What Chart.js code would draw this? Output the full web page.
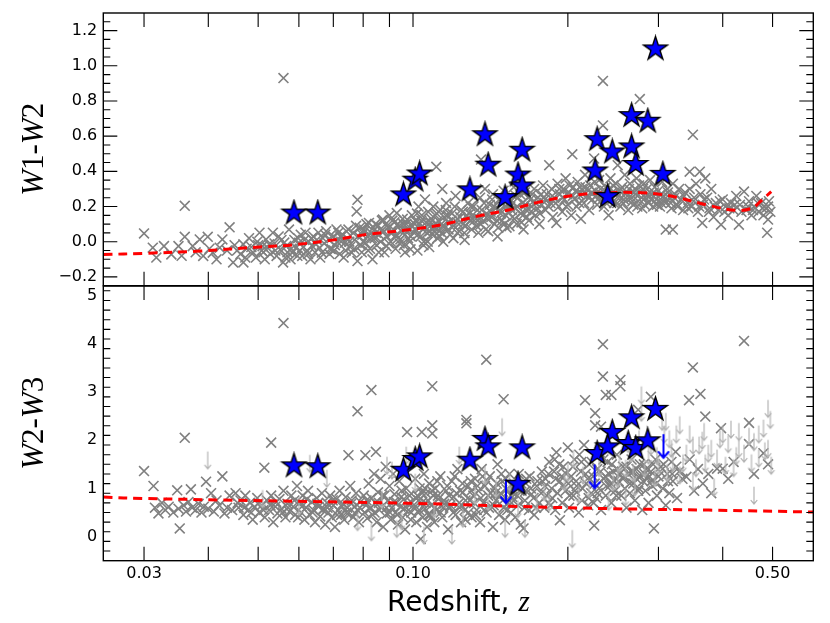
<!DOCTYPE html>
<html>
<head>
<meta charset="utf-8">
<title>WISE colours against redshift</title>
<script src="https://cdn.jsdelivr.net/npm/chart.js@4.4.1/dist/chart.umd.min.js"></script>
<style>
  html, body { margin: 0; padding: 0; background: #fff; }
  #wrap { position: relative; width: 830px; height: 623px; }
  #wrap canvas { position: absolute; left: 0; top: 0; }
</style>
</head>
<body>
<div id="wrap">
  <canvas id="topPanel" width="830" height="623"></canvas>
  <canvas id="bottomPanel" width="830" height="623"></canvas>
</div>
<script>
/* ============================================================
   AXES
============================================================ */
const zRange = [0.025, 0.6];
const zTicks = [0.03, 0.04, 0.05, 0.06, 0.07, 0.08, 0.09, 0.1, 0.2, 0.3, 0.4, 0.5];
const zLabelTicks = [0.03, 0.1, 0.5];
const zLabels = ['0.03', '0.10', '0.50'];

const w12Range = [-0.25, 1.3];
const w12Ticks = [-0.2, 0, 0.2, 0.4, 0.6, 0.8, 1.0, 1.2];
const w12Labels = ['\u22120.2', '0.0', '0.2', '0.4', '0.6', '0.8', '1.0', '1.2'];
const w12Minor = 0.05;

const w23Range = [-0.5, 5.2];
const w23Ticks = [0, 1, 2, 3, 4, 5];
const w23Labels = ['0', '1', '2', '3', '4', '5'];
const w23Minor = 0.2;

/* ============================================================
   TOP PANEL: W1-W2  [redshift, colour]
============================================================ */
const topSample = [
  [0.030,0.047],[0.036,0.204],[0.044,0.082],
  [0.0312,-0.034],[0.0317,-0.090],[0.0328,-0.025],[0.0339,-0.072],[0.0350,-0.025],[0.0355,-0.08],[0.0360,0.028],[0.0373,-0.025],[0.0378,-0.06],[0.0385,0.013],[0.0391,-0.081],[0.0399,0.028],[0.0402,-0.04],[0.0408,-0.062],[0.0415,-0.1],[0.0421,-0.034],[0.0426,0.013],[0.0435,-0.05],[0.0447,-0.118],[0.0450,-0.02],
  [0.0462,-0.07],[0.0468,-0.118],[0.0468,-0.015],[0.0475,-0.04],[0.0480,0.02],[0.0489,-0.062],[0.0495,-0.09],[0.0500,-0.02],[0.0503,0.051],[0.0508,-0.05],[0.051,-0.025],[0.0515,-0.1],[0.0518,0.013],[0.0522,-0.035],[0.0528,-0.07],[0.0534,0.051],[0.0538,-0.01],[0.0543,-0.081],[0.0548,0.03],[0.0552,-0.045],[0.0559,-0.118],[0.0562,-0.005],[0.056,0.93],[0.0567,-0.025],[0.057,-0.06],[0.0574,0.069],[0.0578,-0.1],[0.0583,-0.062],[0.0588,0.01],[0.0592,-0.035],[0.0596,-0.08],
  [0.0455,-0.05],[0.0472,-0.09],[0.0485,-0.03],[0.0498,0.0],[0.0512,-0.06],[0.0525,-0.015],[0.054,-0.05],[0.0555,0.01],[0.0565,-0.09],[0.058,-0.04],[0.0598,0.02],
  [0.060,-0.006],[0.0605,0.04],[0.0609,-0.081],[0.0612,-0.03],[0.0618,0.051],[0.0622,-0.05],[0.0627,0.0],[0.0632,-0.1],[0.0637,-0.025],[0.064,0.03],[0.0645,-0.06],[0.0650,0.01],[0.0655,0.051],[0.0658,-0.035],[0.0665,-0.062],[0.0668,0.02],[0.0672,-0.01],[0.0678,0.06],[0.0685,0.013],[0.069,-0.04],[0.0695,-0.043],[0.070,0.03],[0.0705,-0.02],[0.071,0.07],[0.0716,0.051],[0.072,-0.07],[0.0725,0.0],[0.073,0.04],[0.0737,-0.006],[0.074,-0.05],[0.0745,0.02],[0.0749,0.069],[0.0755,-0.03],[0.0760,-0.062],[0.0765,0.05],[0.077,0.01],[0.0777,0.172],[0.078,0.238],[0.0780,-0.11],[0.0783,0.032],[0.0788,0.08],[0.0792,-0.02],[0.0797,0.04],
  [0.0603,-0.05],[0.0615,0.01],[0.0625,-0.07],[0.0635,0.02],[0.0648,-0.015],[0.066,-0.09],[0.0675,0.04],[0.0688,-0.07],[0.0702,-0.05],[0.0712,0.0],[0.0722,0.03],[0.0733,-0.09],[0.0742,0.06],[0.0752,0.0],[0.0768,-0.04],[0.0775,0.09],[0.0795,-0.06],
  [0.0800,0.0],[0.0805,0.06],[0.0808,-0.006],[0.0812,0.1],[0.0815,0.03],[0.0821,0.107],[0.0825,-0.04],[0.083,0.05],[0.0834,-0.1],[0.0838,0.08],[0.0842,0.02],[0.0847,0.051],[0.085,-0.02],[0.0855,0.09],[0.086,0.04],[0.0865,0.0],[0.087,0.12],[0.0874,0.126],[0.0878,0.06],[0.088,-0.06],[0.0888,-0.025],[0.089,0.03],[0.0895,0.08],[0.090,0.15],[0.0905,0.0],[0.091,0.05],[0.0916,0.069],[0.092,0.11],[0.0925,-0.04],[0.093,0.163],[0.0935,0.02],[0.094,0.09],[0.0945,0.013],[0.095,0.06],[0.0955,0.13],[0.096,-0.02],[0.0965,0.04],[0.097,0.1],[0.0974,0.126],[0.098,0.07],[0.0985,0.0],[0.0989,-0.043],[0.0995,0.15],
  [0.0803,0.07],[0.0818,-0.05],[0.0832,0.02],[0.0845,0.1],[0.0858,-0.06],[0.0868,0.06],[0.0885,0.1],[0.0898,-0.01],[0.0912,0.12],[0.0928,0.04],[0.0942,-0.01],[0.0958,0.1],[0.0968,0.07],[0.0978,0.02],[0.0992,0.09],
  [0.0905,0.05],[0.0935,0.1],[0.0965,-0.06],[0.099,0.03],
  [0.1005,0.05],[0.101,0.12],[0.1013,0.069],[0.102,-0.05],[0.1025,0.2],[0.103,0.1],[0.1035,0.03],[0.104,0.15],[0.1045,0.07],[0.105,0.0],[0.1055,0.24],[0.106,0.11],[0.1065,0.05],[0.107,0.17],[0.1075,-0.03],[0.108,0.09],[0.1085,0.13],[0.109,0.04],[0.1095,0.2],[0.110,0.08],[0.1105,0.15],[0.111,0.426],[0.1115,0.02],[0.112,0.12],[0.1125,0.06],[0.113,0.18],[0.1135,0.1],[0.114,0.3],[0.1145,0.0],[0.115,0.14],[0.1155,0.08],[0.116,0.22],[0.117,0.11],[0.118,0.04],[0.119,0.16],[0.120,0.09],[0.121,0.26],[0.122,0.13],[0.123,0.06],[0.124,0.18],[0.125,0.1],[0.126,0.01],[0.127,0.15],[0.128,0.22],[0.129,0.12],[0.130,0.07],
  [0.1008,0.1],[0.1022,0.04],[0.1038,0.12],[0.1052,0.08],[0.1068,0.0],[0.1082,0.11],[0.1098,0.06],[0.1112,0.16],[0.1128,0.03],[0.1142,0.09],[0.1158,0.18],[0.1172,0.07],[0.1188,0.12],[0.1205,0.2],[0.122,0.05],[0.1235,0.14],[0.125,0.17],[0.1265,0.09],[0.128,0.13],[0.1295,0.2],
  [0.1018,0.16],[0.1048,-0.02],[0.1078,0.06],[0.1108,0.1],[0.1138,0.05],[0.1168,0.15],[0.1198,0.02],[0.1228,0.1],[0.1258,0.05],[0.1288,0.16],
  [0.131,0.2],[0.132,0.14],[0.133,0.09],[0.134,0.051],[0.135,0.25],[0.1356,0.467],[0.136,0.18],[0.137,0.12],[0.138,0.3],[0.139,0.16],[0.140,0.06],[0.141,0.21],[0.142,0.14],[0.143,0.27],[0.144,0.1],[0.145,0.19],[0.146,0.03],[0.147,0.24],[0.148,0.16],[0.149,0.12],[0.150,0.29],[0.151,0.2],[0.152,0.08],[0.153,0.17],[0.154,0.088],[0.155,0.23],[0.156,0.14],[0.157,0.31],[0.158,0.19],[0.159,0.1],[0.160,0.25],[0.162,0.16],[0.163,0.22],[0.164,0.07],[0.165,0.28],[0.166,0.18],[0.168,0.12],[0.169,0.24],[0.170,0.2],[0.172,0.3],[0.173,0.15],[0.175,0.25],[0.176,0.1],[0.178,0.21],[0.179,0.32],
  [0.1315,0.12],[0.1335,0.18],[0.1355,0.1],[0.1375,0.22],[0.1395,0.13],[0.1415,0.17],[0.1435,0.2],[0.1455,0.12],[0.1475,0.18],[0.1495,0.22],[0.1515,0.15],[0.1535,0.25],[0.1555,0.18],[0.1575,0.13],[0.1595,0.2],[0.1615,0.27],[0.1635,0.15],[0.1655,0.21],[0.1675,0.25],[0.1695,0.17],[0.1715,0.23],[0.1745,0.19],[0.1775,0.27],
  [0.1345,0.13],[0.1385,0.07],[0.1425,0.24],[0.1465,0.08],[0.1505,0.1],[0.1545,0.2],[0.1585,0.26],[0.1625,0.11],[0.1665,0.14],[0.1705,0.27],[0.1735,0.22],[0.1765,0.16],[0.1795,0.25],
  [0.181,0.18],[0.182,0.27],[0.184,0.435],[0.185,0.22],[0.186,0.3],[0.187,0.14],[0.188,0.25],[0.19,0.107],[0.191,0.33],[0.192,0.2],[0.193,0.27],[0.195,0.17],[0.196,0.3],[0.197,0.24],[0.198,0.36],[0.2,0.21],[0.201,0.28],[0.203,0.15],[0.204,0.497],[0.205,0.31],[0.206,0.24],[0.208,0.2],[0.209,0.34],[0.21,0.27],[0.212,0.13],[0.213,0.3],[0.215,0.22],[0.216,0.38],[0.218,0.26],[0.22,0.18],[0.221,0.32],[0.223,0.24],[0.225,0.473],[0.226,0.29],[0.228,0.21],[0.23,0.35],[0.232,0.27],[0.234,0.661],[0.234,0.914],[0.235,0.2],[0.237,0.31],[0.239,0.25],[0.24,0.15],[0.242,0.36],[0.244,0.28],[0.246,0.22],[0.248,0.33],[0.25,0.435],
  [0.1805,0.24],[0.1835,0.2],[0.1865,0.26],[0.1895,0.22],[0.1925,0.3],[0.1955,0.25],[0.1985,0.2],[0.2015,0.32],[0.2045,0.26],[0.2075,0.29],[0.2105,0.22],[0.2135,0.27],[0.2165,0.31],[0.2195,0.25],[0.2225,0.28],[0.2255,0.34],[0.2285,0.24],[0.2315,0.3],[0.2345,0.26],[0.2375,0.22],[0.2405,0.3],[0.2435,0.24],[0.2465,0.28],[0.2495,0.22],
  [0.199,0.27],[0.211,0.31],[0.219,0.29],[0.227,0.26],[0.236,0.29],[0.245,0.32],
  [0.251,0.26],[0.253,0.2],[0.255,0.31],[0.257,0.24],[0.258,0.38],[0.26,0.28],[0.262,0.18],[0.264,0.33],[0.266,0.25],[0.268,0.21],[0.27,0.3],[0.272,0.36],[0.274,0.23],[0.276,0.811],[0.277,0.28],[0.279,0.19],[0.281,0.33],[0.283,0.25],[0.285,0.3],[0.287,0.22],[0.289,0.35],[0.291,0.27],[0.293,0.2],[0.295,0.31],[0.297,0.24],[0.3,0.29],[0.302,0.2],[0.305,0.34],[0.307,0.26],[0.31,0.069],[0.31,0.22],[0.312,0.3],[0.315,0.25],[0.318,0.19],[0.32,0.069],[0.32,0.33],[0.323,0.27],[0.326,0.21],[0.329,0.3],
  [0.252,0.29],[0.256,0.22],[0.259,0.27],[0.263,0.3],[0.267,0.23],[0.271,0.27],[0.275,0.32],[0.278,0.25],[0.282,0.21],[0.286,0.27],[0.29,0.24],[0.294,0.28],[0.298,0.21],[0.303,0.27],[0.308,0.24],[0.313,0.28],[0.317,0.22],[0.322,0.25],[0.327,0.2],
  [0.261,0.24],[0.269,0.28],[0.273,0.2],[0.28,0.3],[0.288,0.26],[0.296,0.27],[0.304,0.22],
  [0.332,0.24],[0.335,0.18],[0.338,0.28],[0.342,0.22],[0.345,0.398],[0.345,0.3],[0.348,0.2],[0.35,0.608],[0.352,0.25],[0.355,0.33],[0.358,0.17],[0.361,0.398],[0.362,0.27],[0.365,0.107],[0.366,0.21],[0.37,0.36],[0.373,0.25],[0.377,0.19],[0.38,0.3],[0.384,0.14],[0.388,0.22],[0.392,0.18],[0.397,0.097],[0.4,0.24],[0.405,0.2],[0.41,0.15],[0.415,0.22],[0.42,0.18],[0.425,0.26],[0.43,0.097],[0.432,0.21],[0.44,0.285],[0.445,0.18],[0.45,0.23],[0.455,0.15],[0.46,0.2],[0.465,0.26],[0.47,0.17],[0.475,0.22],[0.48,0.15],[0.485,0.19],[0.488,0.051],[0.49,0.126],[0.492,0.23],[0.495,0.17],
  [0.336,0.26],[0.343,0.19],[0.351,0.23],[0.36,0.2],[0.368,0.24],[0.376,0.17],[0.386,0.2],[0.395,0.23],[0.403,0.17],[0.412,0.19],[0.422,0.21],[0.435,0.17],[0.448,0.2],[0.458,0.18],[0.468,0.22],[0.478,0.19],[0.49,0.2]
];

const topTargets = [
  [0.0587,0.163],[0.0653,0.163],[0.0958,0.266],[0.101,0.35],[0.103,0.385],
  [0.138,0.608],[0.140,0.435],[0.129,0.295],[0.163,0.520],[0.160,0.379],[0.163,0.317],[0.151,0.251],
  [0.296,1.096],[0.228,0.580],[0.244,0.510],[0.226,0.402],[0.239,0.257],[0.266,0.717],[0.286,0.685],[0.266,0.539],[0.271,0.439],[0.306,0.383]
];

const topModel = [
  [0.025,-0.073],[0.030,-0.066],[0.0385,-0.053],[0.0503,-0.030],[0.0583,-0.018],[0.0697,0.009],[0.0812,0.041],[0.1015,0.073],[0.114,0.097],[0.133,0.144],[0.154,0.182],[0.178,0.229],[0.208,0.266],[0.241,0.279],[0.279,0.279],[0.301,0.270],[0.325,0.253],[0.376,0.206],[0.425,0.178],[0.456,0.191],[0.477,0.238],[0.497,0.285]
];

/* ============================================================
   BOTTOM PANEL: W2-W3
============================================================ */
const bottomSample = [
  [0.030,1.36],[0.036,2.05],
  [0.0313,1.05],[0.0315,0.6],[0.032,0.48],[0.0325,0.7],[0.033,0.55],[0.0335,0.62],[0.0342,0.5],[0.0348,0.96],[0.035,0.58],[0.0352,0.17],[0.0358,0.65],[0.0362,0.52],[0.0366,0.72],[0.037,0.98],[0.0372,0.6],[0.0378,0.55],[0.0383,0.68],[0.0388,0.5],[0.0392,0.62],[0.0396,1.14],[0.04,0.58],[0.0405,0.9],[0.041,0.52],[0.0415,0.75],[0.042,0.65],[0.0426,1.25],[0.043,0.48],[0.0435,0.6],[0.044,0.85],[0.0445,0.55],
  [0.0452,0.9],[0.0458,0.6],[0.0462,0.75],[0.0468,0.45],[0.0472,0.85],[0.0478,0.55],[0.0482,0.7],[0.0488,0.35],[0.0492,0.62],[0.0498,0.8],[0.0502,0.5],[0.0508,0.65],[0.0514,1.43],[0.0515,0.4],[0.052,0.75],[0.0525,0.55],[0.053,1.95],[0.053,0.85],[0.0535,0.3],[0.054,0.62],[0.0545,0.48],[0.055,0.78],[0.0555,0.58],[0.056,4.43],[0.056,0.95],[0.0565,0.4],[0.057,0.68],[0.0575,0.52],[0.058,0.85],[0.0585,0.62],[0.059,0.45],[0.0595,1.05],
  [0.0456,0.7],[0.047,0.6],[0.0485,0.5],[0.05,0.68],[0.0512,0.55],[0.0528,0.65],[0.0542,0.72],[0.0558,0.5],[0.0572,0.6],[0.0588,0.75],[0.0598,0.4],
  [0.0602,0.7],[0.0606,0.5],[0.061,0.85],[0.0615,0.35],[0.062,0.6],[0.0625,0.95],[0.063,0.45],[0.0635,0.72],[0.064,0.55],[0.0645,0.3],[0.065,0.8],[0.0655,0.62],[0.066,0.42],[0.0665,0.9],[0.067,0.58],[0.0675,0.25],[0.068,0.7],[0.0685,0.5],[0.069,0.85],[0.0695,0.4],[0.07,0.65],[0.0705,0.2],[0.071,0.78],[0.0715,0.55],[0.072,0.95],[0.0725,0.45],[0.073,0.68],[0.0735,0.35],[0.074,0.82],[0.0745,0.6],[0.0749,1.69],[0.075,0.5],[0.0755,1.05],[0.076,0.75],[0.0765,0.4],[0.077,0.62],[0.0775,0.9],[0.078,2.6],[0.078,0.55],[0.0785,0.3],[0.079,0.72],
  [0.0608,0.62],[0.0622,0.78],[0.0638,0.5],[0.0652,0.68],[0.0668,0.55],[0.0682,0.6],[0.0698,0.75],[0.0712,0.45],[0.0728,0.62],[0.0742,0.5],[0.0758,0.68],[0.0772,0.48],[0.0788,0.6],
  [0.0802,0.85],[0.0805,0.5],[0.0808,1.69],[0.081,0.65],[0.0815,0.38],[0.082,1.1],[0.0825,0.58],[0.083,3.04],[0.083,0.8],[0.0835,0.45],[0.084,1.3],[0.0845,0.7],[0.0847,1.76],[0.085,0.3],[0.0855,0.92],[0.086,0.55],[0.0865,1.2],[0.087,0.62],[0.0875,0.2],[0.088,0.85],[0.0885,1.45],[0.089,0.48],[0.0895,0.75],[0.09,1.05],[0.0905,0.35],[0.091,0.6],[0.0915,1.3],[0.092,0.88],[0.0925,0.5],[0.093,0.7],[0.0935,0.25],[0.094,1.15],[0.0945,0.62],[0.095,0.95],[0.0955,0.4],[0.096,0.78],[0.0965,0.15],[0.097,1.0],[0.0974,2.17],[0.098,0.55],[0.0985,0.85],[0.099,0.35],[0.0995,0.7],
  [0.0812,0.75],[0.0828,0.6],[0.0842,0.5],[0.0858,0.7],[0.0872,0.85],[0.0888,0.6],[0.0902,0.5],[0.0918,0.72],[0.0932,0.45],[0.0948,0.82],[0.0962,0.58],[0.0978,0.68],[0.0992,0.5],
  [0.1005,0.6],[0.101,1.2],[0.1015,0.3],[0.102,0.85],[0.1025,0.5],[0.103,1.0],[0.1035,-0.05],[0.104,0.7],[0.104,2.17],[0.1045,0.4],[0.105,1.3],[0.1055,0.58],[0.106,0.9],[0.1065,0.2],[0.107,0.75],[0.1075,1.1],[0.108,0.45],[0.1085,0.65],[0.109,2.31],[0.109,2.14],[0.109,3.12],[0.1095,0.85],[0.11,0.3],[0.1105,1.0],[0.111,0.55],[0.112,0.78],[0.113,1.25],[0.114,0.4],[0.115,0.68],[0.116,0.95],[0.117,0.15],[0.118,0.6],[0.119,1.15],[0.12,0.82],[0.121,0.45],[0.122,1.4],[0.123,0.7],[0.124,0.3],[0.125,0.92],[0.126,0.55],[0.127,2.42],[0.127,2.35],[0.128,1.05],[0.129,0.75],[0.13,0.4],
  [0.1012,0.8],[0.1028,0.55],[0.1042,0.9],[0.1058,0.7],[0.1072,0.45],[0.1088,0.95],[0.1102,0.6],[0.1118,0.85],[0.1132,0.5],[0.1148,0.75],[0.1165,1.05],[0.1182,0.65],[0.1198,0.5],[0.1215,0.9],[0.1232,0.6],[0.1248,1.1],[0.1265,0.75],[0.1282,0.5],[0.1298,0.95],
  [0.1025,0.75],[0.1055,1.0],[0.1085,0.4],[0.1115,1.15],[0.1145,0.6],[0.1175,0.85],[0.1205,1.25],[0.1235,0.95],[0.1265,0.35],[0.1295,1.15],
  [0.131,0.85],[0.132,1.2],[0.133,0.55],[0.134,0.95],[0.135,0.3],[0.136,1.4],[0.137,0.7],[0.138,1.05],[0.1388,3.67],[0.139,0.5],[0.14,0.85],[0.141,1.25],[0.142,0.62],[0.143,0.2],[0.144,1.0],[0.145,0.75],[0.146,1.5],[0.147,0.45],[0.148,0.9],[0.149,1.15],[0.15,2.85],[0.15,0.6],[0.151,0.35],[0.152,0.98],[0.153,0.7],[0.154,1.3],[0.155,0.5],[0.156,0.82],[0.157,1.1],[0.158,0.4],[0.16,0.65],[0.161,0.95],[0.162,0.25],[0.164,0.17],[0.165,0.75],[0.166,1.2],[0.168,0.55],[0.17,0.88],[0.172,0.45],[0.174,1.05],[0.176,0.7],[0.178,1.35],[0.18,0.6],
  [0.1315,0.7],[0.1335,1.05],[0.1355,0.8],[0.1375,0.55],[0.1395,1.15],[0.1415,0.9],[0.1435,0.65],[0.1455,1.1],[0.1475,0.85],[0.1495,0.75],[0.1515,1.2],[0.1535,0.95],[0.1555,0.7],[0.1575,1.05],[0.1595,0.85],[0.1625,1.1],[0.1655,0.95],[0.1685,1.25],[0.1715,0.8],[0.1745,1.15],[0.1775,0.9],
  [0.1325,0.45],[0.1365,1.25],[0.1405,0.6],[0.1445,0.9],[0.1485,1.3],[0.1525,0.55],[0.1565,0.9],[0.1605,1.3],[0.1645,0.6],[0.1695,1.0],[0.1735,0.6],[0.1785,1.15],
  [0.181,1.2],[0.182,0.85],[0.184,1.55],[0.185,0.65],[0.186,1.0],[0.188,1.35],[0.189,0.55],[0.19,1.75],[0.191,0.9],[0.193,0.34],[0.193,1.15],[0.195,0.7],[0.196,1.45],[0.198,0.95],[0.2,1.85],[0.201,0.6],[0.203,1.25],[0.205,0.85],[0.206,1.6],[0.208,1.05],[0.21,0.5],[0.212,1.35],[0.213,0.75],[0.215,1.9],[0.216,2.83],[0.217,1.1],[0.219,0.65],[0.22,1.5],[0.222,0.9],[0.224,1.25],[0.225,0.23],[0.226,2.56],[0.226,2.31],[0.227,0.8],[0.228,1.4],[0.23,1.0],[0.232,2.28],[0.232,0.55],[0.234,3.99],[0.234,3.32],[0.235,1.2],[0.237,2.94],[0.237,0.85],[0.239,1.55],[0.241,1.05],[0.243,2.94],[0.243,0.7],[0.245,1.35],[0.247,0.95],[0.249,1.7],
  [0.1805,1.05],[0.1835,1.3],[0.1865,0.8],[0.1895,1.2],[0.1925,1.5],[0.1955,1.05],[0.1985,1.3],[0.2015,0.85],[0.2045,1.45],[0.2075,1.15],[0.2105,1.7],[0.2135,1.0],[0.2165,1.3],[0.2195,0.8],[0.2225,1.55],[0.2255,1.1],[0.2285,0.9],[0.2315,1.35],[0.2345,1.6],[0.2375,1.05],[0.2405,1.3],[0.2435,1.5],[0.2465,1.15],[0.2495,1.4],
  [0.1835,0.7],[0.1885,1.6],[0.1945,1.25],[0.2005,1.1],[0.2065,0.95],[0.2125,1.55],[0.2185,1.2],[0.2245,0.7],[0.2305,1.75],[0.2365,1.25],[0.2425,1.1],[0.2485,0.85],
  [0.251,1.15],[0.253,3.25],[0.253,3.12],[0.254,0.85],[0.256,1.45],[0.258,1.0],[0.26,0.6],[0.262,1.3],[0.264,0.9],[0.266,1.6],[0.268,1.1],[0.27,0.75],[0.272,1.4],[0.274,2.63],[0.275,1.0],[0.277,1.25],[0.279,0.55],[0.281,1.5],[0.283,0.95],[0.285,1.2],[0.287,0.7],[0.29,2.9],[0.29,1.35],[0.292,1.05],[0.294,0.17],[0.296,1.6],[0.298,0.85],[0.3,1.25],[0.303,1.45],[0.306,1.0],[0.31,0.65],[0.312,1.3],[0.315,0.9],[0.318,1.55],[0.32,1.15],[0.324,1.76],[0.326,0.8],[0.329,1.35],
  [0.252,1.3],[0.256,1.2],[0.26,1.45],[0.264,1.1],[0.268,1.35],[0.272,1.2],[0.276,1.5],[0.28,1.15],[0.284,1.4],[0.288,1.25],[0.293,1.5],[0.297,1.1],[0.302,1.35],[0.307,1.5],[0.313,1.15],[0.319,1.3],[0.325,1.45],
  [0.258,1.25],[0.266,1.35],[0.274,0.95],[0.282,1.3],[0.291,1.15],
  [0.334,1.2],[0.34,1.24],[0.344,2.83],[0.345,1.6],[0.35,3.51],[0.352,0.95],[0.358,1.4],[0.362,2.96],[0.366,1.1],[0.37,2.49],[0.375,1.3],[0.38,0.9],[0.39,1.41],[0.397,2.25],[0.4,1.41],[0.41,1.2],[0.42,1.55],[0.44,4.06],[0.45,2.36],[0.45,1.92],[0.46,1.3],[0.48,1.73],[0.49,1.5]
];

// upper limits in W3 (arrow starts at the value and points down)
const bottomSampleLimits = [
  [0.0399,1.76],[0.051,0.96],[0.06,0.8],[0.063,1.69],[0.068,1.38],[0.078,0.48],[0.083,0.27],[0.087,0.95],[0.089,1.65],[0.091,1.55],[0.093,0.34],[0.095,0.5],[0.097,1.86],[0.101,1.3],
  [0.105,0.2],[0.11,0.75],[0.119,0.2],[0.123,1.86],[0.125,0.55],[0.132,1.03],[0.138,1.45],[0.14,0.9],[0.145,1.17],[0.149,2.45],[0.151,0.34],[0.154,1.31],[0.16,0.75],[0.165,0.34],[0.174,0.89],[0.18,1.1],[0.184,0.89],[0.197,1.31],[0.2,1.5],[0.204,0.13],[0.205,1.79],[0.21,1.05],[0.214,1.45],[0.22,1.17],[0.23,1.6],[0.24,0.9],[0.245,1.31],[0.25,1.38],[0.259,1.59],[0.259,1.0],
  [0.252,1.7],[0.262,2.1],[0.265,1.9],[0.268,1.5],[0.27,1.2],[0.275,2.2],[0.278,3.11],[0.278,2.75],[0.282,1.6],[0.285,2.3],[0.287,1.86],[0.29,2.05],[0.295,1.4],[0.298,1.85],[0.30,1.65],[0.305,2.56],[0.308,2.3],[0.31,2.56],[0.312,1.5],[0.315,2.2],[0.318,2.0],[0.32,1.72],[0.325,2.3],[0.33,2.49],[0.33,1.45],[0.335,1.7],[0.34,1.9],[0.345,2.3],[0.35,2.07],[0.35,1.31],[0.355,1.6],[0.36,2.07],[0.365,2.17],[0.368,2.35],[0.37,1.7],[0.375,1.9],[0.38,2.0],[0.385,1.2],[0.39,1.8],[0.395,2.2],[0.40,2.3],[0.405,1.65],[0.41,2.1],[0.415,2.4],[0.42,1.6],[0.425,1.85],[0.43,2.35],[0.43,2.0],[0.44,1.9],[0.45,2.25],[0.455,1.7],[0.46,2.14],[0.46,1.03],[0.47,1.8],[0.47,2.3],[0.48,2.42],[0.483,1.95],[0.49,2.83],[0.49,2.0],[0.495,2.6],[0.497,1.65]
];

const bottomTargets = [
  [0.0587,1.468],[0.0653,1.45],[0.0958,1.378],[0.101,1.60],[0.103,1.655],
  [0.129,1.586],[0.138,2.017],[0.140,1.863],[0.163,1.842],[0.160,1.087],
  [0.296,2.64],[0.266,2.466],[0.244,2.162],[0.228,1.725],[0.239,1.863],[0.262,1.933],[0.271,1.83],[0.286,1.988]
];
const bottomTargetLimits = [[0.1516,1.17],[0.2255,1.48],[0.3068,2.11]];

const bottomModel = [
  [0.025,0.82],[0.030,0.79],[0.1,0.69],[0.154,0.63],[0.241,0.58],[0.376,0.55],[0.6,0.51]
];

/* ============================================================
   MARKERS
============================================================ */
function makeStar(r) {
  const size = Math.ceil(2 * r + 4);
  const c = document.createElement('canvas');
  c.width = c.height = size;
  const g = c.getContext('2d');
  g.beginPath();
  for (let i = 0; i < 10; i++) {
    const rr = i % 2 ? r * 0.381966 : r;
    const a = -Math.PI / 2 + i * Math.PI / 5;
    g.lineTo(size / 2 + rr * Math.cos(a), size / 2 + rr * Math.sin(a));
  }
  g.closePath();
  g.fillStyle = '#0000ff';
  g.fill();
  g.lineWidth = 1.4;
  g.strokeStyle = '#000';
  g.stroke();
  return c;
}

function makeArrow(len, color, width, head) {
  const w = head * 2 + 4;
  const h = len * 2 + 4;
  const c = document.createElement('canvas');
  c.width = w; c.height = h;
  const g = c.getContext('2d');
  const cx = w / 2, top = h / 2, tip = h / 2 + len;
  g.strokeStyle = color;
  g.lineWidth = width;
  g.lineCap = 'round';
  g.beginPath();
  g.moveTo(cx, top); g.lineTo(cx, tip);
  g.moveTo(cx - head, tip - head * 1.2); g.lineTo(cx, tip); g.lineTo(cx + head, tip - head * 1.2);
  g.stroke();
  return c;
}

const starImg = makeStar(12.5);
const greyArrow = makeArrow(17, '#b4b4b4', 1.2, 3);
const blueArrow = makeArrow(23, '#0000ff', 2, 5);

const toXY = list => list.map(([x, y]) => ({ x, y }));

/* ============================================================
   FRAME, INWARD TICKS AND AXIS TITLES
============================================================ */
const MAJOR = 14, MINOR = 7;

function drawRich(ctx, parts, cx, cy, angle) {
  ctx.save();
  ctx.translate(cx, cy);
  ctx.rotate(angle);
  ctx.fillStyle = '#000';
  ctx.textBaseline = 'alphabetic';
  const widths = parts.map(p => { ctx.font = p.font; return ctx.measureText(p.text).width; });
  let x = -widths.reduce((s, w) => s + w, 0) / 2;
  parts.forEach((p, i) => {
    ctx.font = p.font;
    ctx.fillText(p.text, x, 0);
    x += widths[i];
  });
  ctx.restore();
}

const panelFrame = {
  id: 'panelFrame',
  afterDatasetsDraw(chart, args, o) {
    const { ctx, chartArea: a } = chart;
    const xs = chart.scales.x, ys = chart.scales.y;
    ctx.save();
    ctx.strokeStyle = '#000';
    ctx.lineWidth = 1.1;
    ctx.beginPath();
    zTicks.forEach(v => {
      const px = xs.getPixelForValue(v);
      ctx.moveTo(px, a.top); ctx.lineTo(px, a.top + MAJOR);
      ctx.moveTo(px, a.bottom); ctx.lineTo(px, a.bottom - MAJOR);
    });
    const steps = Math.round((o.range[1] - o.range[0]) / o.minor);
    for (let i = 1; i < steps; i++) {
      const v = o.range[0] + i * o.minor;
      const len = o.major.some(m => Math.abs(m - v) < 1e-6) ? MAJOR : MINOR;
      const py = ys.getPixelForValue(v);
      ctx.moveTo(a.left, py); ctx.lineTo(a.left + len, py);
      ctx.moveTo(a.right, py); ctx.lineTo(a.right - len, py);
    }
    ctx.stroke();
    ctx.lineWidth = 1.4;
    ctx.strokeRect(a.left, a.top, a.right - a.left, a.bottom - a.top);
    ctx.restore();
  },
  afterDraw(chart, args, o) {
    const { ctx, chartArea: a } = chart;
    const serif = '31px "Liberation Serif"';
    const serifIt = 'italic 31px "Liberation Serif"';
    drawRich(ctx, o.yTitle.map((t, i) => ({ text: t, font: i % 3 === 0 ? serifIt : serif })),
      43, (a.top + a.bottom) / 2, -Math.PI / 2);
    if (o.xTitle) {
      drawRich(ctx, [
        { text: 'Redshift, ', font: '28px "DejaVu Sans"' },
        { text: 'z', font: 'italic 29px "Liberation Serif"' }
      ], (a.left + a.right) / 2, 611, 0);
    }
  }
};

/* ============================================================
   CHARTS
============================================================ */
function panelOptions(yRange, yTicks, yLabels, yMinor, showX, padding, yTitle) {
  return {
    responsive: false,
    animation: false,
    events: [],
    layout: { padding },
    plugins: {
      legend: { display: false },
      tooltip: { enabled: false },
      panelFrame: { range: yRange, major: yTicks, minor: yMinor, yTitle, xTitle: showX }
    },
    scales: {
      x: {
        type: 'logarithmic',
        min: zRange[0],
        max: zRange[1],
        display: showX,
        afterBuildTicks: s => { s.ticks = zLabelTicks.map(v => ({ value: v })); },
        afterFit: s => {
          s.height = showX ? 62 : 0;
          s.paddingLeft = 0; s.paddingRight = 0;
        },
        grid: { display: false, drawTicks: false },
        border: { display: false },
        ticks: {
          autoSkip: false,
          maxRotation: 0,
          padding: 4,
          color: '#000',
          font: { family: 'DejaVu Sans', size: 16 },
          callback: (v, i) => zLabels[i]
        }
      },
      y: {
        type: 'linear',
        min: yRange[0],
        max: yRange[1],
        afterBuildTicks: s => { s.ticks = yTicks.map(v => ({ value: v })); },
        afterFit: s => {
          s.width = 100;
          s.paddingTop = 0; s.paddingBottom = 0;
        },
        grid: { display: false, drawTicks: false },
        border: { display: false },
        ticks: {
          padding: 6,
          color: '#000',
          font: { family: 'DejaVu Sans', size: 16 },
          callback: (v, i) => yLabels[i]
        }
      }
    }
  };
}

function datasets(sample, sampleLimits, targets, targetLimits, model) {
  const sets = [
    {
      data: toXY(targets), order: 0,
      pointStyle: starImg, pointRadius: 12
    },
    {
      data: toXY(model), order: 2, showLine: true,
      borderColor: '#ff0000', borderWidth: 3, borderDash: [9, 6],
      tension: 0.35, pointRadius: 0, fill: false
    },
    {
      data: toXY(sample), order: 4,
      pointStyle: 'crossRot', pointRadius: 7,
      pointBorderColor: '#808080', pointBorderWidth: 1.6,
      pointBackgroundColor: 'transparent'
    }
  ];
  if (sampleLimits) sets.push({ data: toXY(sampleLimits), order: 3, pointStyle: greyArrow, pointRadius: 8 });
  if (targetLimits) sets.push({ data: toXY(targetLimits), order: 1, pointStyle: blueArrow, pointRadius: 10 });
  return sets;
}

new Chart(document.getElementById('topPanel'), {
  type: 'scatter',
  data: { datasets: datasets(topSample, null, topTargets, null, topModel) },
  options: panelOptions(w12Range, w12Ticks, w12Labels, w12Minor, false,
    { left: 3.3, top: 12, right: 16.7, bottom: 337.3 }, ['W', '1', '-', 'W', '2']),
  plugins: [panelFrame]
});

new Chart(document.getElementById('bottomPanel'), {
  type: 'scatter',
  data: { datasets: datasets(bottomSample, bottomSampleLimits, bottomTargets, bottomTargetLimits, bottomModel) },
  options: panelOptions(w23Range, w23Ticks, w23Labels, w23Minor, true,
    { left: 3.3, top: 286, right: 16.7, bottom: 0.3 }, ['W', '2', '-', 'W', '3']),
  plugins: [panelFrame]
});
</script>
</body>
</html>
